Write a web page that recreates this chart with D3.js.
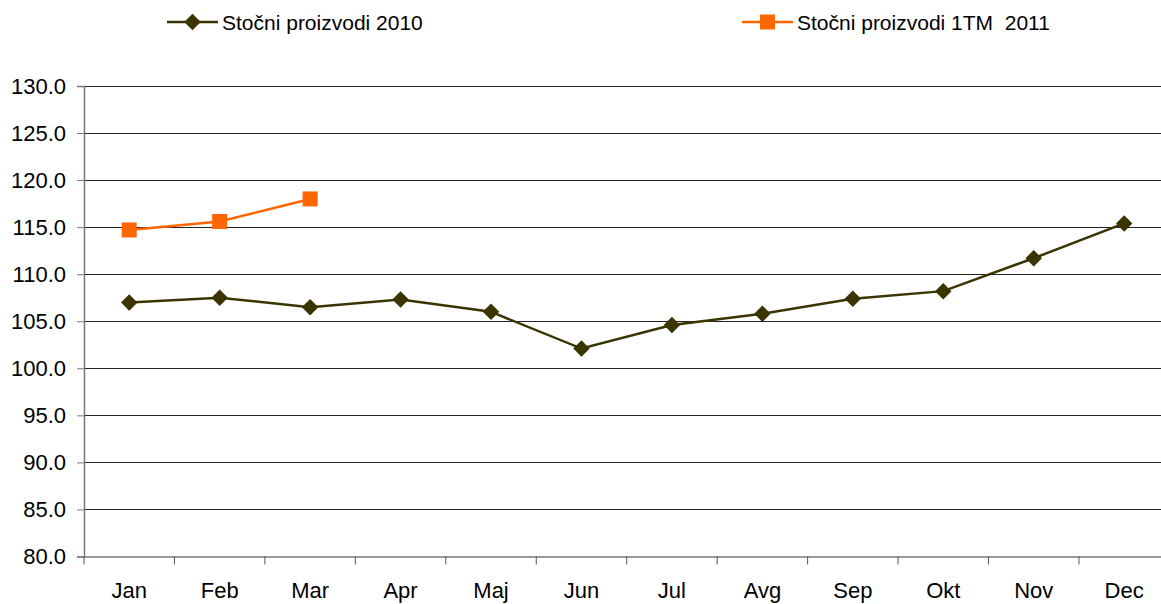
<!DOCTYPE html>
<html>
<head>
<meta charset="utf-8">
<script src="https://cdn.jsdelivr.net/npm/d3@7"></script>
<style>
  body { margin: 0; background: #fff; }
  svg { display: block; font-family: "Liberation Sans", Arial, sans-serif; }
</style>
</head>
<body>
<svg id="chart" width="1161" height="604"></svg>
<script>
const months = ["Jan", "Feb", "Mar", "Apr", "Maj", "Jun", "Jul", "Avg", "Sep", "Okt", "Nov", "Dec"];
const values2010 = [107.0, 107.5, 106.5, 107.3, 106.0, 102.1, 104.6, 105.8, 107.4, 108.2, 111.7, 115.4];
const values2011 = [114.7, 115.6, 118.0];
const yTicks = [80, 85, 90, 95, 100, 105, 110, 115, 120, 125, 130];

const svg = d3.select("#chart");
const margin = { left: 84, top: 86, bottom: 556.5 };
const plotRight = 84 + 12 * 90.45;

const x = d3.scaleBand().domain(months).range([margin.left, plotRight]);
const y = d3.scaleLinear().domain([80, 130]).range([margin.bottom, margin.top]);

// gridlines
svg.append("g").selectAll("line")
    .data(yTicks.slice(1))
    .join("line")
    .attr("x1", margin.left).attr("x2", plotRight)
    .attr("y1", d => Math.round(y(d)) + 0.5).attr("y2", d => Math.round(y(d)) + 0.5)
    .attr("stroke", "#222").attr("stroke-width", 1.2);

// y axis
const yAxis = svg.append("g")
    .attr("transform", `translate(${margin.left},0)`)
    .call(d3.axisLeft(y).tickValues(yTicks).tickFormat(d3.format(".1f")).tickSize(7).tickPadding(11));
yAxis.select(".domain").attr("stroke", "#777").attr("stroke-width", 1.5);
yAxis.selectAll(".tick line").attr("stroke", "#777");
yAxis.selectAll("text").style("font-size", "22px").attr("fill", "#000");

// x axis
const xAxis = svg.append("g")
    .attr("transform", `translate(0,${margin.bottom})`)
    .call(d3.axisBottom(x).tickSize(0).tickPadding(37));
xAxis.select(".domain").attr("stroke", "#777").attr("stroke-width", 1.5);
xAxis.selectAll("text").style("font-size", "22px").attr("fill", "#000").attr("dy", "0.2em");
svg.append("g").selectAll("line")
    .data(months)
    .join("line")
    .attr("x1", d => x(d)).attr("x2", d => x(d))
    .attr("y1", margin.bottom).attr("y2", margin.bottom + 8)
    .attr("stroke", "#555");

const line = d3.line()
    .x((d, i) => x(months[i]) + x.bandwidth() / 2)
    .y(d => y(d));

const c2010 = "#3a3500", c2011 = "#ff6600";

svg.append("path").datum(values2010)
    .attr("d", line).attr("fill", "none")
    .attr("stroke", c2010).attr("stroke-width", 2.5);
svg.append("g").selectAll("path")
    .data(values2010)
    .join("path")
    .attr("d", d3.symbol(d3.symbolSquare, 136))
    .attr("transform", (d, i) => `translate(${x(months[i]) + x.bandwidth() / 2},${y(d)}) rotate(45)`)
    .attr("fill", c2010);

svg.append("path").datum(values2011)
    .attr("d", line).attr("fill", "none")
    .attr("stroke", c2011).attr("stroke-width", 2.5);
svg.append("g").selectAll("rect")
    .data(values2011)
    .join("rect")
    .attr("x", (d, i) => x(months[i]) + x.bandwidth() / 2 - 7.5)
    .attr("y", d => y(d) - 7.5)
    .attr("width", 15).attr("height", 15)
    .attr("fill", c2011);

// legend
const legend = [
  { label: "Stočni proizvodi 2010", color: c2010, marker: "diamond", x0: 167, w: 51 },
  { label: "Stočni proizvodi 1TM  2011", color: c2011, marker: "square", x0: 742, w: 51 }
];
const lg = svg.append("g").selectAll("g").data(legend).join("g")
    .attr("transform", d => `translate(${d.x0},22)`);
lg.append("line").attr("x1", 0).attr("x2", d => d.w).attr("y1", 0).attr("y2", 0)
    .attr("stroke", d => d.color).attr("stroke-width", 2.5);
lg.filter(d => d.marker === "diamond").append("path")
    .attr("d", d3.symbol(d3.symbolSquare, 136))
    .attr("transform", d => `translate(${d.w / 2},0) rotate(45)`)
    .attr("fill", d => d.color);
lg.filter(d => d.marker === "square").append("rect")
    .attr("x", d => d.w / 2 - 7.5).attr("y", -7.5).attr("width", 15).attr("height", 15)
    .attr("fill", d => d.color);
lg.append("text")
    .attr("x", d => d.w + 4)
    .attr("y", 8)
    .attr("xml:space", "preserve")
    .style("white-space", "pre")
    .style("font-size", "21px")
    .text(d => d.label);
</script>
</body>
</html>
